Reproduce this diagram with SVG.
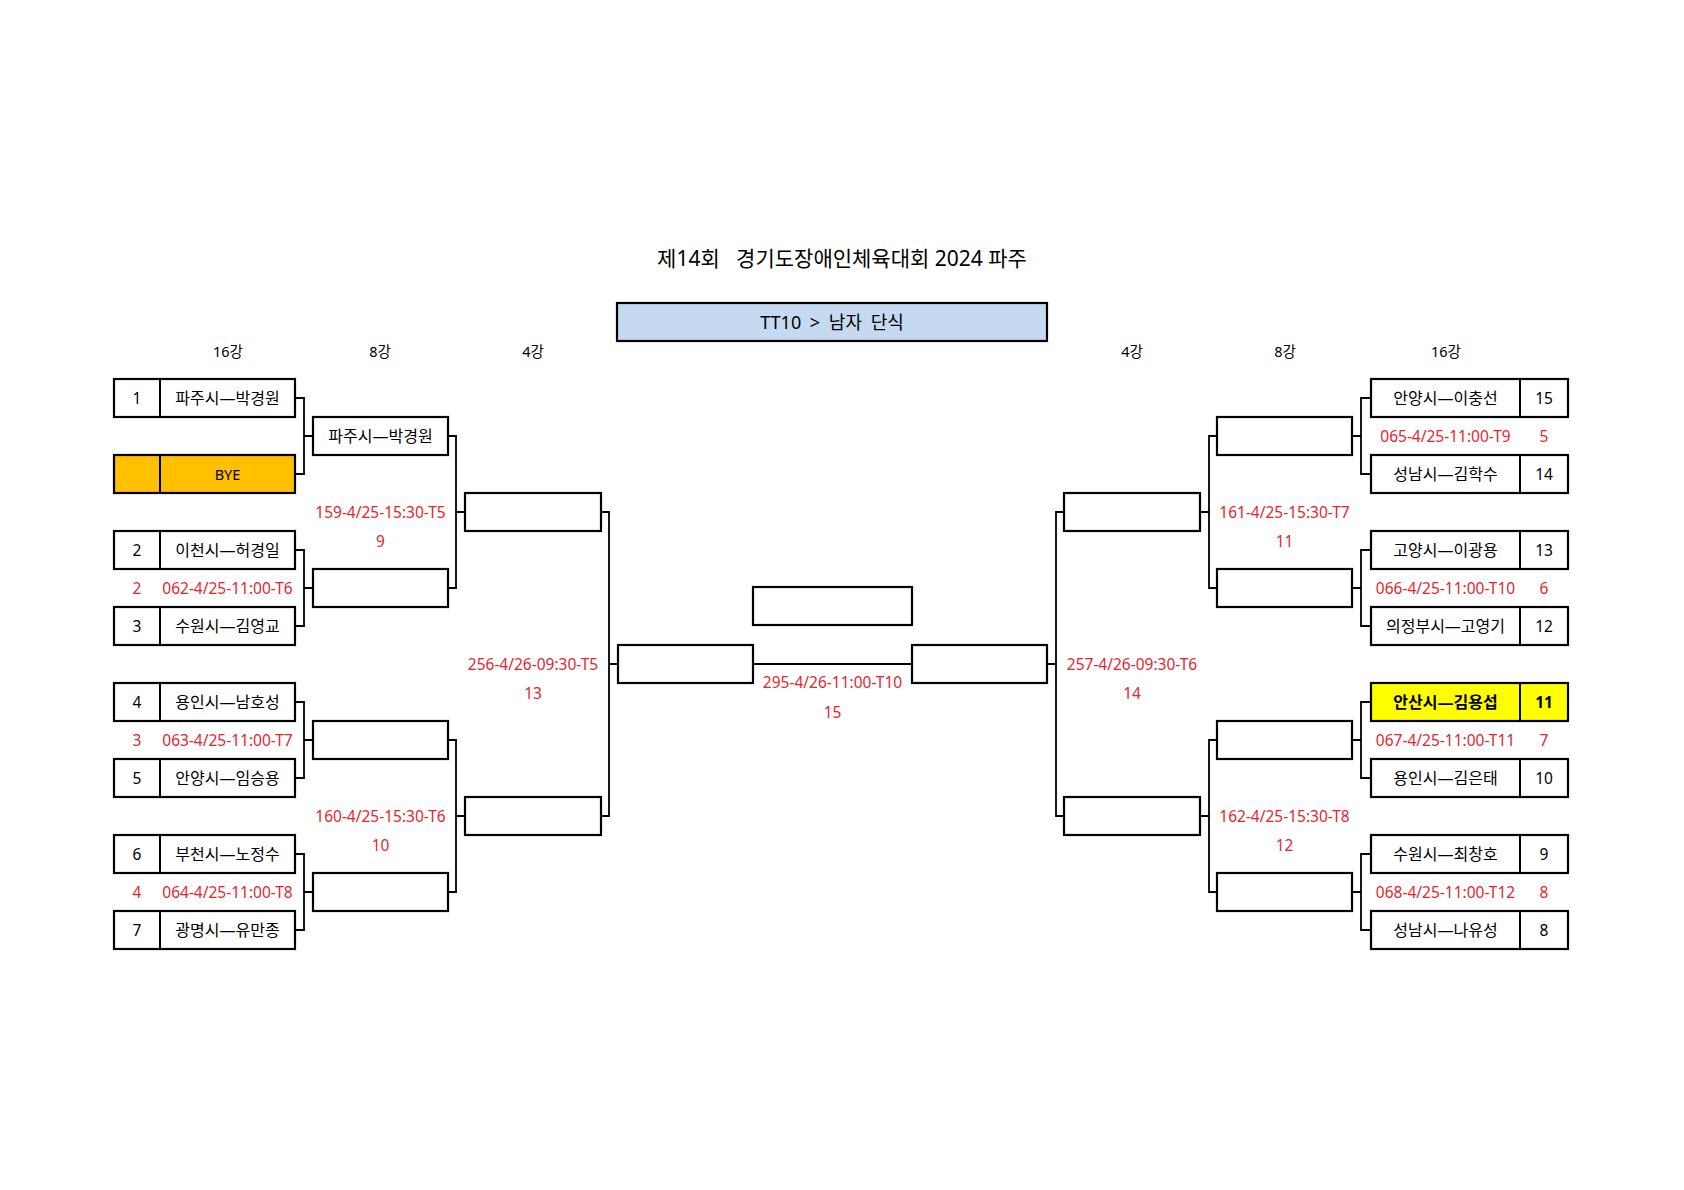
<svg xmlns="http://www.w3.org/2000/svg" width="1684" height="1190" viewBox="0 0 1684 1190">
<style>
.t{font-family:"Noto Sans","Noto Sans CJK KR",sans-serif;font-size:15.5px;fill:#000;text-anchor:middle;dominant-baseline:central}
.n{font-size:16px}
.h{font-size:14.5px}
.r{fill:#E5262E}
.b{font-weight:bold}
.box{fill:#fff;stroke:#000;stroke-width:2.2}
.div{stroke:#000;stroke-width:2}
.con{fill:none;stroke:#000;stroke-width:1.8}
</style>
<rect width="1684" height="1190" fill="#fff"/>
<g id="title">
<text class="t" x="842" y="258" style="font-size:21px" xml:space="preserve">제14회   경기도장애인체육대회 2024 파주</text>
</g>
<g id="category">
<rect x="617" y="303" width="430" height="38" fill="#C5D9F1" stroke="#000" stroke-width="2.2"/>
<text class="t" x="832" y="322" style="font-size:18px;word-spacing:4px">TT10 &gt; 남자 단식</text>
</g>
<g id="headers">
<text class="t h" x="228" y="351">16강</text>
<text class="t h" x="380" y="351">8강</text>
<text class="t h" x="533" y="351">4강</text>
<text class="t h" x="1132" y="351">4강</text>
<text class="t h" x="1285" y="351">8강</text>
<text class="t h" x="1446" y="351">16강</text>
</g>
<g id="connectors">
<path class="con" d="M295 398H304V474H295M304 436H313"/>
<path class="con" d="M295 550H304V626H295M304 588H313"/>
<path class="con" d="M295 702H304V778H295M304 740H313"/>
<path class="con" d="M295 854H304V930H295M304 892H313"/>
<path class="con" d="M448 436H456V588H448M456 512H465"/>
<path class="con" d="M448 740H456V892H448M456 816H465"/>
<path class="con" d="M601 512H609V816H601M609 664H618"/>
<path class="con" d="M753 664H912"/>
<path class="con" d="M1064 512H1056V816H1064M1056 664H1047"/>
<path class="con" d="M1217 436H1209V588H1217M1209 512H1200"/>
<path class="con" d="M1217 740H1209V892H1217M1209 816H1200"/>
<path class="con" d="M1371 398H1361V474H1371M1361 436H1352"/>
<path class="con" d="M1371 550H1361V626H1371M1361 588H1352"/>
<path class="con" d="M1371 702H1361V778H1371M1361 740H1352"/>
<path class="con" d="M1371 854H1361V930H1371M1361 892H1352"/>
</g>
<g id="L16-1"><rect class="box" x="114" y="379" width="181" height="38"/><line class="div" x1="160" y1="379" x2="160" y2="417"/><text class="t" x="137" y="398">1</text><text class="t n" x="227.5" y="398">파주시—박경원</text></g>
<g id="L16-bye"><rect class="box" x="114" y="455" width="181" height="38" style="fill:#FFC000"/><line class="div" x1="160" y1="455" x2="160" y2="493"/><text class="t" x="227.5" y="474" style="font-size:14.5px">BYE</text></g>
<g id="L16-2"><rect class="box" x="114" y="531" width="181" height="38"/><line class="div" x1="160" y1="531" x2="160" y2="569"/><text class="t" x="137" y="550">2</text><text class="t n" x="227.5" y="550">이천시—허경일</text></g>
<g id="L16-3"><rect class="box" x="114" y="607" width="181" height="38"/><line class="div" x1="160" y1="607" x2="160" y2="645"/><text class="t" x="137" y="626">3</text><text class="t n" x="227.5" y="626">수원시—김영교</text></g>
<g id="L16-4"><rect class="box" x="114" y="683" width="181" height="38"/><line class="div" x1="160" y1="683" x2="160" y2="721"/><text class="t" x="137" y="702">4</text><text class="t n" x="227.5" y="702">용인시—남호성</text></g>
<g id="L16-5"><rect class="box" x="114" y="759" width="181" height="38"/><line class="div" x1="160" y1="759" x2="160" y2="797"/><text class="t" x="137" y="778">5</text><text class="t n" x="227.5" y="778">안양시—임승용</text></g>
<g id="L16-6"><rect class="box" x="114" y="835" width="181" height="38"/><line class="div" x1="160" y1="835" x2="160" y2="873"/><text class="t" x="137" y="854">6</text><text class="t n" x="227.5" y="854">부천시—노정수</text></g>
<g id="L16-7"><rect class="box" x="114" y="911" width="181" height="38"/><line class="div" x1="160" y1="911" x2="160" y2="949"/><text class="t" x="137" y="930">7</text><text class="t n" x="227.5" y="930">광명시—유만종</text></g>
<g id="L16-labels">
<text class="t r" x="137" y="588">2</text><text class="t r" x="227.5" y="588">062-4/25-11:00-T6</text>
<text class="t r" x="137" y="740">3</text><text class="t r" x="227.5" y="740">063-4/25-11:00-T7</text>
<text class="t r" x="137" y="892">4</text><text class="t r" x="227.5" y="892">064-4/25-11:00-T8</text>
</g>
<g id="L8-1"><rect class="box" x="313" y="417" width="135" height="38"/><text class="t n" x="380.5" y="436">파주시—박경원</text></g>
<g id="L8-2"><rect class="box" x="313" y="569" width="135" height="38"/></g>
<g id="L8-3"><rect class="box" x="313" y="721" width="135" height="38"/></g>
<g id="L8-4"><rect class="box" x="313" y="873" width="135" height="38"/></g>
<g id="L8-labels">
<text class="t r" x="380.5" y="512">159-4/25-15:30-T5</text><text class="t r" x="380.5" y="541">9</text>
<text class="t r" x="380.5" y="816">160-4/25-15:30-T6</text><text class="t r" x="380.5" y="845">10</text>
</g>
<g id="L4-1"><rect class="box" x="465" y="493" width="136" height="38"/></g>
<g id="L4-2"><rect class="box" x="465" y="797" width="136" height="38"/></g>
<g id="L4-labels"><text class="t r" x="533" y="664">256-4/26-09:30-T5</text><text class="t r" x="533" y="693">13</text></g>
<g id="final-left"><rect class="box" x="618" y="645" width="135" height="38"/></g>
<g id="winner"><rect class="box" x="753" y="587" width="159" height="38"/></g>
<g id="final-right"><rect class="box" x="912" y="645" width="135" height="38"/></g>
<g id="final-labels"><text class="t r" x="832.5" y="682">295-4/26-11:00-T10</text><text class="t r" x="832.5" y="712">15</text></g>
<g id="R4-1"><rect class="box" x="1064" y="493" width="136" height="38"/></g>
<g id="R4-2"><rect class="box" x="1064" y="797" width="136" height="38"/></g>
<g id="R4-labels"><text class="t r" x="1132" y="664">257-4/26-09:30-T6</text><text class="t r" x="1132" y="693">14</text></g>
<g id="R8-1"><rect class="box" x="1217" y="417" width="135" height="38"/></g>
<g id="R8-2"><rect class="box" x="1217" y="569" width="135" height="38"/></g>
<g id="R8-3"><rect class="box" x="1217" y="721" width="135" height="38"/></g>
<g id="R8-4"><rect class="box" x="1217" y="873" width="135" height="38"/></g>
<g id="R8-labels">
<text class="t r" x="1284.5" y="512">161-4/25-15:30-T7</text><text class="t r" x="1284.5" y="541">11</text>
<text class="t r" x="1284.5" y="816">162-4/25-15:30-T8</text><text class="t r" x="1284.5" y="845">12</text>
</g>
<g id="R16-15"><rect class="box" x="1371" y="379" width="197" height="38"/><line class="div" x1="1520" y1="379" x2="1520" y2="417"/><text class="t n" x="1445.5" y="398">안양시—이충선</text><text class="t" x="1544" y="398">15</text></g>
<g id="R16-14"><rect class="box" x="1371" y="455" width="197" height="38"/><line class="div" x1="1520" y1="455" x2="1520" y2="493"/><text class="t n" x="1445.5" y="474">성남시—김학수</text><text class="t" x="1544" y="474">14</text></g>
<g id="R16-13"><rect class="box" x="1371" y="531" width="197" height="38"/><line class="div" x1="1520" y1="531" x2="1520" y2="569"/><text class="t n" x="1445.5" y="550">고양시—이광용</text><text class="t" x="1544" y="550">13</text></g>
<g id="R16-12"><rect class="box" x="1371" y="607" width="197" height="38"/><line class="div" x1="1520" y1="607" x2="1520" y2="645"/><text class="t n" x="1445.5" y="626">의정부시—고영기</text><text class="t" x="1544" y="626">12</text></g>
<g id="R16-11"><rect class="box" x="1371" y="683" width="197" height="38" style="fill:#FFFF00"/><line class="div" x1="1520" y1="683" x2="1520" y2="721"/><text class="t n b" x="1445.5" y="702">안산시—김용섭</text><text class="t b" x="1544" y="702">11</text></g>
<g id="R16-10"><rect class="box" x="1371" y="759" width="197" height="38"/><line class="div" x1="1520" y1="759" x2="1520" y2="797"/><text class="t n" x="1445.5" y="778">용인시—김은태</text><text class="t" x="1544" y="778">10</text></g>
<g id="R16-9"><rect class="box" x="1371" y="835" width="197" height="38"/><line class="div" x1="1520" y1="835" x2="1520" y2="873"/><text class="t n" x="1445.5" y="854">수원시—최창호</text><text class="t" x="1544" y="854">9</text></g>
<g id="R16-8"><rect class="box" x="1371" y="911" width="197" height="38"/><line class="div" x1="1520" y1="911" x2="1520" y2="949"/><text class="t n" x="1445.5" y="930">성남시—나유성</text><text class="t" x="1544" y="930">8</text></g>
<g id="R16-labels">
<text class="t r" x="1445.5" y="436">065-4/25-11:00-T9</text><text class="t r" x="1544" y="436">5</text>
<text class="t r" x="1445.5" y="588">066-4/25-11:00-T10</text><text class="t r" x="1544" y="588">6</text>
<text class="t r" x="1445.5" y="740">067-4/25-11:00-T11</text><text class="t r" x="1544" y="740">7</text>
<text class="t r" x="1445.5" y="892">068-4/25-11:00-T12</text><text class="t r" x="1544" y="892">8</text>
</g>
</svg>
